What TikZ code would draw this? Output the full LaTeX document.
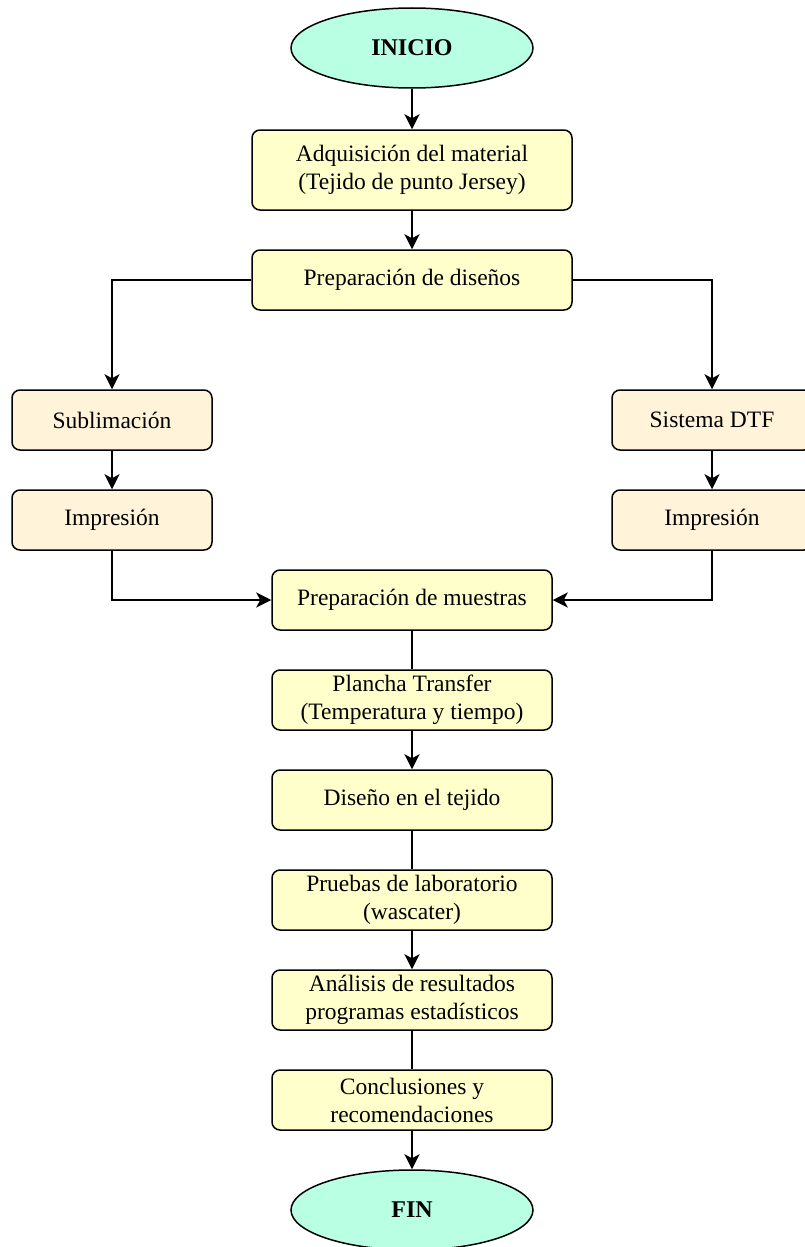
\documentclass[tikz,border=0pt]{standalone}
\usepackage{fontspec}
\setmainfont{Liberation Serif}
\usetikzlibrary{shapes.geometric, positioning, arrows.meta}
\definecolor{menta}{HTML}{B8FFE3}
\definecolor{crema}{HTML}{FFFFCC}
\definecolor{arena}{HTML}{FFF4DA}

\begin{document}
\begin{tikzpicture}[x=1pt, y=-1pt, line width=1.5pt,
    >={Stealth[length=15pt, width=15pt, inset=4pt]},
    paso/.style={draw, rounded corners=8pt, fill=crema, minimum width=280pt,
        minimum height=60pt, inner sep=0pt, align=center,
        font=\fontsize{23.5}{28}\selectfont},
    rama/.style={paso, fill=arena, minimum width=200pt},
    borde/.style={draw, ellipse, fill=menta, minimum width=242pt,
        minimum height=80pt, inner sep=0pt, font=\fontsize{24}{28}\selectfont\bfseries}]
    \clip (0,0) rectangle (805,1247);
    \useasboundingbox (0,0) rectangle (805,1247);

    \node[borde] (inicio) at (412,48) {INICIO};
    \node[paso, minimum width=320pt, minimum height=80pt] (adq) at (412,170)
        {Adquisición del material\\(Tejido de punto Jersey)};
    \node[paso, minimum width=320pt] (disenos) at (412,280) {Preparación de diseños};
    \node[rama] (subl) at (112,420) {Sublimación};
    \node[rama] (impI) at (112,520) {Impresión};
    \node[rama] (dtf) at (712,420) {Sistema DTF};
    \node[rama] (impD) at (712,520) {Impresión};
    \node[paso] (muestras) at (412,600) {Preparación de muestras};
    \node[paso] (plancha) at (412,700) {Plancha Transfer\\(Temperatura y tiempo)};
    \node[paso] (diseno) at (412,800) {Diseño en el tejido};
    \node[paso] (pruebas) at (412,900) {Pruebas de laboratorio\\(wascater)};
    \node[paso] (analisis) at (412,1000) {Análisis de resultados\\programas estadísticos};
    \node[paso] (concl) at (412,1100) {Conclusiones y\\recomendaciones};
    \node[borde] (fin) at (412,1210) {FIN};

    \draw[->] (inicio) -- (adq);
    \draw[->] (adq) -- (disenos);
    \draw[->] (disenos.west) -| (subl);
    \draw[->] (disenos.east) -| (dtf);
    \draw[->] (subl) -- (impI);
    \draw[->] (dtf) -- (impD);
    \draw[->] (impI) |- (muestras);
    \draw[->] (impD) |- (muestras);
    \draw (muestras) -- (plancha);
    \draw[->] (plancha) -- (diseno);
    \draw (diseno) -- (pruebas);
    \draw[->] (pruebas) -- (analisis);
    \draw (analisis) -- (concl);
    \draw[->] (concl) -- (fin);
\end{tikzpicture}
\end{document}
